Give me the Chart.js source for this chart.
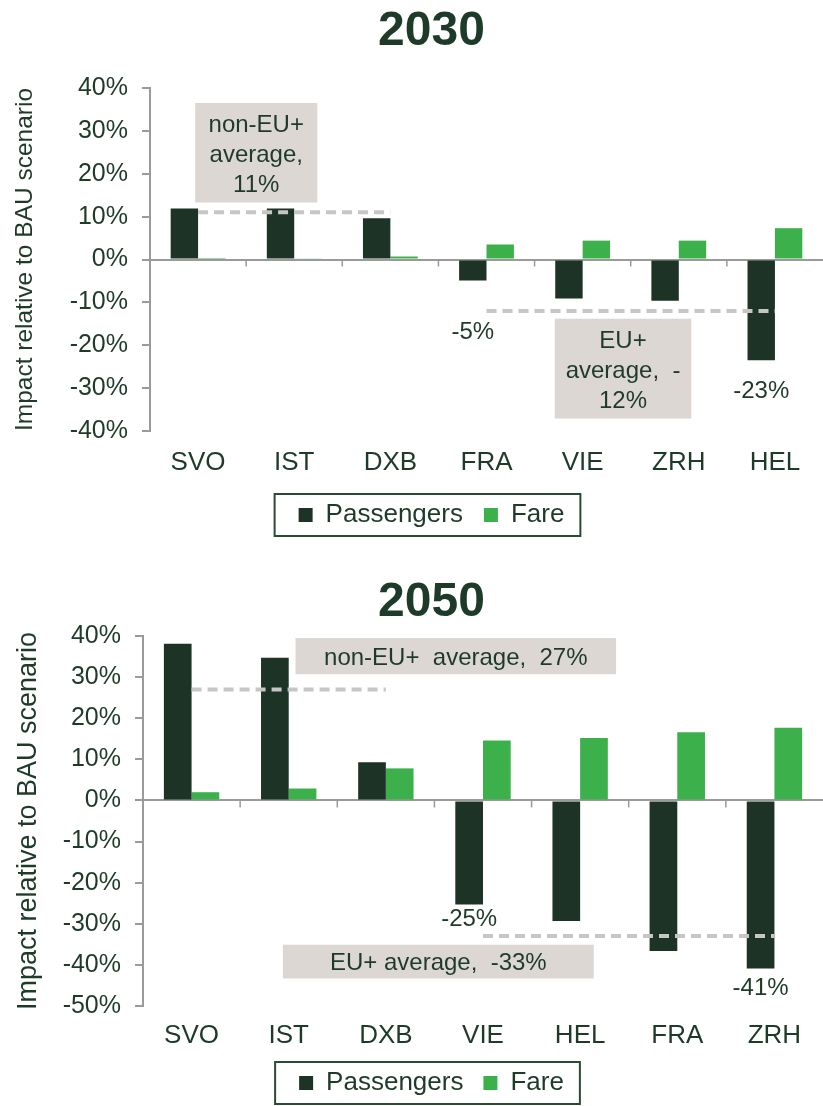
<!DOCTYPE html>
<html>
<head>
<meta charset="utf-8">
<script src="https://cdn.jsdelivr.net/npm/chart.js@4.4.1/dist/chart.umd.min.js"></script>
<style>
  body { margin: 0; background: #fff; }
  .wrap { position: absolute; left: 0; width: 823px; }
</style>
</head>
<body>
<div class="wrap" style="top:0;height:550px"><canvas id="chart2030"></canvas></div>
<div class="wrap" style="top:571px;height:535px"><canvas id="chart2050"></canvas></div>
<script>
// 2030 data (% impact relative to BAU)
const airports2030 = ['SVO', 'IST', 'DXB', 'FRA', 'VIE', 'ZRH', 'HEL'];
const passengers2030 = [11.9, 11.9, 9.6, -4.9, -9.1, -9.6, -23.5];
const fare2030 = [0.1, 0.2, 0.7, 3.5, 4.4, 4.4, 7.3];
const nonEuAvg2030 = [11, 11, 11, null, null, null, null];
const euAvg2030 = [null, null, null, -12, -12, -12, -12];
const passLabels2030 = [null, null, null, '-5%', null, null, '-23%'];
const nonEuNote2030 = ['non-EU+', 'average,', '11%'];
const euNote2030 = ['EU+', 'average,  -', '12%'];

// 2050 data
const airports2050 = ['SVO', 'IST', 'DXB', 'VIE', 'HEL', 'FRA', 'ZRH'];
const passengers2050 = [38.1, 34.7, 9.3, -25.3, -29.3, -36.6, -40.9];
const fare2050 = [2.0, 2.9, 7.8, 14.6, 15.2, 16.6, 17.7];
const nonEuAvg2050 = [27, 27, 27, null, null, null, null];
const euAvg2050 = [null, null, null, -33, -33, -33, -33];
const passLabels2050 = [null, null, null, '-25%', null, null, '-41%'];
const nonEuNote2050 = ['non-EU+  average,  27%'];
const euNote2050 = ['EU+ average,  -33%'];

const fontFamily = "'Liberation Sans', Arial, sans-serif";
const darkGreen = '#1c3326';
const lightGreen = '#3cb04a';
const textColor = '#1e3a29';
const axisGrey = '#9a9a9a';

// draws category ticks on the zero line, note boxes, bar labels and the legend frame
const extrasPlugin = {
    id: 'extras',
    beforeDatasetsDraw(chart) {
        const {ctx, scales: {x, y}} = chart;
        const y0 = y.getPixelForValue(0);
        ctx.save();
        ctx.strokeStyle = axisGrey;
        ctx.lineWidth = 1.5;
        for (let i = 0; i < x.ticks.length - 1; i++) {
            const px = x.getPixelForValue(i + 0.5);
            ctx.beginPath();
            ctx.moveTo(px, y0);
            ctx.lineTo(px, y0 + 7);
            ctx.stroke();
        }
        ctx.restore();
    },
    afterDatasetsDraw(chart, args, opts) {
        const {ctx, scales: {x, y}} = chart;
        ctx.save();
        ctx.font = '24px ' + fontFamily;
        ctx.textAlign = 'center';
        ctx.textBaseline = 'middle';
        opts.notes.forEach(note => {
            const l = x.getPixelForValue(note.x0), r = x.getPixelForValue(note.x1);
            const t = y.getPixelForValue(note.y0), b = y.getPixelForValue(note.y1);
            ctx.fillStyle = '#dcd7d3';
            ctx.fillRect(l, t, r - l, b - t);
            ctx.fillStyle = textColor;
            note.lines.forEach((line, k) => {
                ctx.fillText(line, (l + r) / 2, y.getPixelForValue(note.lineY[k]));
            });
        });
        const meta = chart.getDatasetMeta(0);
        opts.barLabels.forEach((text, i) => {
            if (!text) return;
            ctx.fillStyle = textColor;
            ctx.fillText(text, meta.data[i].x, y.getPixelForValue(opts.barLabelY[i]));
        });
        ctx.restore();
    },
    afterDraw(chart) {
        const boxes = chart.legend.legendHitBoxes;
        if (!boxes || !boxes.length) return;
        const {ctx} = chart;
        const left = Math.min(...boxes.map(b => b.left)) - 24;
        const right = Math.max(...boxes.map(b => b.left + b.width)) + 16;
        const cy = boxes[0].top + boxes[0].height / 2;
        ctx.save();
        ctx.strokeStyle = '#2a4a35';
        ctx.lineWidth = 2;
        ctx.strokeRect(left, cy - 21, right - left, 42);
        ctx.restore();
    }
};

function makeChart(id, cfg) {
    const ctx = document.getElementById(id).getContext('2d');
    return new Chart(ctx, {
        type: 'bar',
        data: {
            labels: cfg.labels,
            datasets: [
                {
                    label: 'Passengers',
                    data: cfg.passengers,
                    backgroundColor: darkGreen,
                    categoryPercentage: 0.57,
                    barPercentage: 1,
                    order: 2
                },
                {
                    label: 'Fare',
                    data: cfg.fare,
                    backgroundColor: lightGreen,
                    categoryPercentage: 0.57,
                    barPercentage: 1,
                    order: 2
                },
                {
                    type: 'line',
                    label: 'non-EU+ average',
                    data: cfg.nonEuAvg,
                    borderColor: '#c6c6c6',
                    borderWidth: 4,
                    borderDash: [10, 6],
                    pointRadius: 0,
                    order: 1
                },
                {
                    type: 'line',
                    label: 'EU+ average',
                    data: cfg.euAvg,
                    borderColor: '#c6c6c6',
                    borderWidth: 4,
                    borderDash: [10, 6],
                    pointRadius: 0,
                    order: 1
                }
            ]
        },
        options: {
            responsive: true,
            maintainAspectRatio: false,
            animation: false,
            // left padding pushes title and legend toward the plot like the original
            layout: { padding: { left: 40, right: 0, top: 0, bottom: cfg.bottomPad } },
            plugins: {
                title: {
                    display: true,
                    text: cfg.title,
                    color: textColor,
                    font: { family: fontFamily, size: 48, weight: 'bold' },
                    padding: { top: 3, bottom: cfg.titleGap }
                },
                legend: {
                    position: 'bottom',
                    labels: {
                        filter: item => item.datasetIndex < 2,
                        boxWidth: 14,
                        boxHeight: 14,
                        padding: cfg.legendPad,
                        color: textColor,
                        font: { family: fontFamily, size: 26 }
                    }
                },
                tooltip: { enabled: false },
                extras: cfg.extras
            },
            scales: {
                x: {
                    grid: { display: false, drawTicks: false },
                    border: { display: false },
                    ticks: {
                        padding: cfg.xPad,
                        color: textColor,
                        font: { family: fontFamily, size: 26 }
                    },
                    afterFit: scale => { scale.height = cfg.xHeight; }
                },
                y: {
                    min: cfg.yMin,
                    max: cfg.yMax,
                    ticks: {
                        stepSize: 10,
                        padding: 14,
                        color: textColor,
                        font: { family: fontFamily, size: 25 },
                        callback: v => v + '%'
                    },
                    grid: {
                        color: c => c.tick.value === 0 ? axisGrey : 'rgba(0,0,0,0)',
                        lineWidth: 2,
                        tickColor: axisGrey,
                        tickLength: 8
                    },
                    border: { display: true, color: axisGrey, width: 2 },
                    title: {
                        display: true,
                        text: 'Impact relative to BAU scenario',
                        color: textColor,
                        font: { family: fontFamily, size: cfg.yTitleSize },
                        padding: { top: cfg.yTitlePad, bottom: 0 }
                    },
                    afterFit: scale => { scale.width = cfg.yWidth; }
                }
            }
        },
        plugins: [extrasPlugin]
    });
}

makeChart('chart2030', {
    title: '2030',
    labels: airports2030,
    passengers: passengers2030,
    fare: fare2030,
    nonEuAvg: nonEuAvg2030,
    euAvg: euAvg2030,
    yMin: -40, yMax: 40,
    yWidth: 110, yTitleSize: 24.5, yTitlePad: -29.7,
    titleGap: 27.4, xPad: 16, xHeight: 50, bottomPad: 12, legendPad: 21,
    extras: {
        notes: [
            { x0: -0.03, x1: 1.24, y0: 36.5, y1: 13.3, lines: nonEuNote2030, lineY: [31.2, 24.2, 17.2] },
            { x0: 3.71, x1: 5.13, y0: -13.8, y1: -37.1, lines: euNote2030, lineY: [-19.1, -26.1, -33.0] }
        ],
        barLabels: passLabels2030,
        barLabelY: [null, null, null, -17, null, null, -30.7]
    }
});

makeChart('chart2050', {
    title: '2050',
    labels: airports2050,
    passengers: passengers2050,
    fare: fare2050,
    nonEuAvg: nonEuAvg2050,
    euAvg: euAvg2050,
    yMin: -50, yMax: 40,
    yWidth: 103, yTitleSize: 27, yTitlePad: -27.2,
    titleGap: 4.4, xPad: 14, xHeight: 44, bottomPad: 0, legendPad: 20,
    extras: {
        notes: [
            { x0: 1.07, x1: 4.37, y0: 39.5, y1: 30.7, lines: nonEuNote2050, lineY: [34.6] },
            { x0: 0.94, x1: 4.14, y0: -35.1, y1: -43.3, lines: euNote2050, lineY: [-39.6] }
        ],
        barLabels: passLabels2050,
        barLabelY: [null, null, null, -29, null, null, -45.8]
    }
});
</script>
</body>
</html>
